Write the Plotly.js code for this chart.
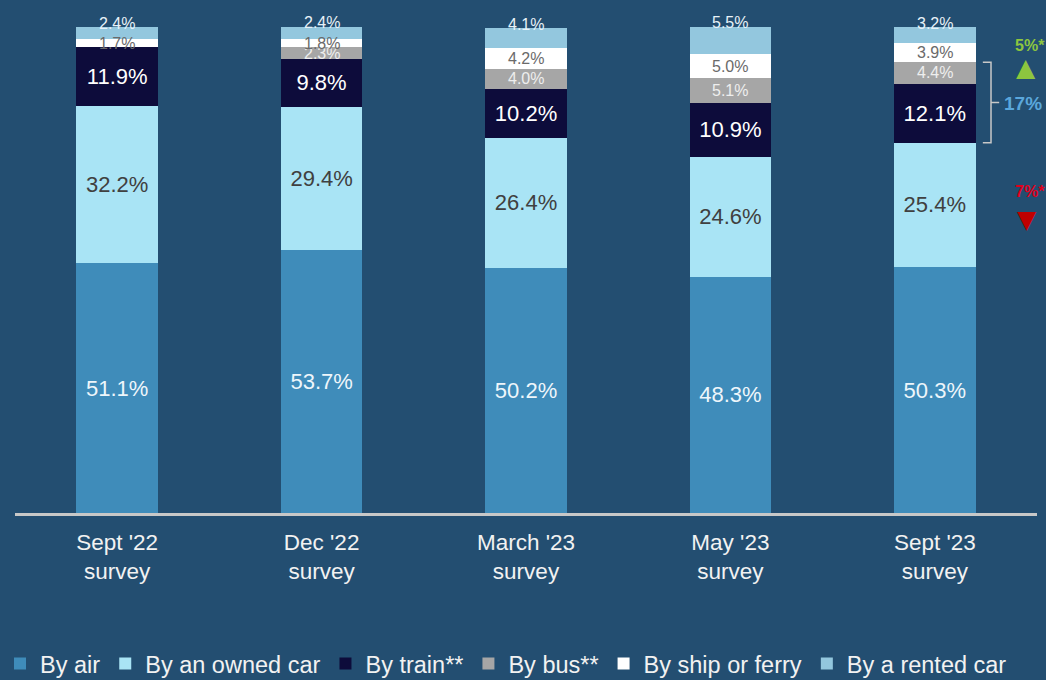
<script src="https://cdn.plot.ly/plotly-3.0.1.min.js"></script>
<style>
  html, body { margin: 0; padding: 0; background: #234e71; }
  #chart { width: 1046px; height: 680px; }
</style>
<div id="chart"></div>
<script>
// survey waves and share of trips by mode of transport (%)
const surveys = ["Sept '22<br>survey", "Dec '22<br>survey", "March '23<br>survey", "May '23<br>survey", "Sept '23<br>survey"];
const byAir = [51.1, 53.7, 50.2, 48.3, 50.3];
const byOwnedCar = [32.2, 29.4, 26.4, 24.6, 25.4];
const byTrain = [11.9, 9.8, 10.2, 10.9, 12.1];
const byBus = [null, 2.3, 4.0, 5.1, 4.4];
const byShip = [1.7, 1.8, 4.2, 5.0, 3.9];
const byRentedCar = [2.4, 2.4, 4.1, 5.5, 3.2];

const bg = "#234e71";
const font = "Liberation Sans, Arial, sans-serif";

function barTrace(name, values, color, textColor, showText) {
  return {
    type: "bar",
    name: name,
    x: surveys,
    y: values,
    marker: { color: color, line: { width: 0 } },
    text: showText ? values.map(v => v == null ? "" : v.toFixed(1) + "%") : null,
    textposition: showText ? "inside" : "none",
    insidetextanchor: "middle",
    textangle: 0,
    textfont: { family: font, size: 22, color: textColor },
    hoverinfo: "x+y+name"
  };
}

const traces = [
  barTrace("By air", byAir, "#3f8cba", "#eef6fb", true),
  barTrace("By an owned car", byOwnedCar, "#a9e4f5", "#404040", true),
  barTrace("By train**", byTrain, "#0d0c3b", "#ffffff", true),
  barTrace("By bus**", byBus, "#a6a6a6", "#ffffff", false),
  barTrace("By ship or ferry", byShip, "#ffffff", "#ffffff", false),
  barTrace("By a rented car", byRentedCar, "#93c7de", "#ffffff", false)
];

// labels for the thin segments at the top of each bar
const annotations = [];
surveys.forEach((s, i) => {
  let base = byAir[i] + byOwnedCar[i] + byTrain[i];
  const bus = byBus[i] || 0;
  if (byBus[i] != null) {
    annotations.push({ x: s, y: base + bus / 2, text: bus.toFixed(1) + "%", showarrow: false,
      font: { family: font, size: 16, color: "#eeeeee" } });
  }
  base += bus;
  annotations.push({ x: s, y: base + byShip[i] / 2, text: byShip[i].toFixed(1) + "%", showarrow: false,
    font: { family: font, size: 16, color: "#6a6a6a" } });
  base += byShip[i];
  annotations.push({ x: s, y: base + byRentedCar[i], yshift: 4, text: byRentedCar[i].toFixed(1) + "%", showarrow: false,
    font: { family: font, size: 16, color: "#e8f2f8" } });
});

// change markers on the right
function note(x, y, text, size, color, fam) {
  return { xref: "paper", yref: "paper", x: x, y: y, xanchor: "center", yanchor: "middle",
    text: text, showarrow: false, font: { family: fam || font, size: size, color: color } };
}
annotations.push(
  note(0.993, 0.957, "<b>5%*</b>", 16, "#8dc63f"),
  note(0.989, 0.912, "▲", 25, "#8dc63f", "DejaVu Sans"),
  note(0.986, 0.837, "<b>17%</b>", 19, "#5aa7dc"),
  note(0.993, 0.657, "<b>7%*</b>", 16, "#e0001b"),
  note(0.990, 0.600, "▼", 25, "#c00000", "DejaVu Sans")
);

// bracket around train + bus of the last survey
const last = surveys.length - 1;
const brBottom = byAir[last] + byOwnedCar[last];
const brTop = brBottom + byTrain[last] + byBus[last];
const brMid = (brTop + brBottom) / 2;
const shapes = [{
  type: "path", xref: "paper", yref: "y",
  path: `M 0.947,${brTop} L 0.955,${brTop} L 0.955,${brBottom} L 0.947,${brBottom} M 0.955,${brMid} L 0.963,${brMid}`,
  line: { color: "#c8c8c8", width: 1.5 }
}];

const layout = {
  width: 1046,
  height: 680,
  paper_bgcolor: bg,
  plot_bgcolor: bg,
  barmode: "stack",
  bargap: 0.6,
  margin: { l: 15, r: 9, t: 24, b: 167 },
  font: { family: font, color: "#f2f2f2" },
  xaxis: {
    showgrid: false,
    zeroline: false,
    showline: true,
    linecolor: "#c8c8c8",
    linewidth: 3,
    ticks: "",
    ticklabelstandoff: 7,
    tickfont: { family: font, size: 22.5, color: "#f2f2f2" }
  },
  yaxis: {
    range: [0, 100],
    visible: false,
    showgrid: false,
    zeroline: false
  },
  showlegend: true,
  legend: {
    orientation: "h",
    traceorder: "normal",
    xref: "container",
    x: 0.0,
    xanchor: "left",
    yref: "container",
    y: 0.024,
    yanchor: "middle",
    font: { family: font, size: 23.5, color: "#f2f2f2" },
    itemwidth: 30,
    bgcolor: "rgba(0,0,0,0)"
  },
  annotations: annotations,
  shapes: shapes
};

Plotly.newPlot("chart", traces, layout, { displayModeBar: false });
</script>
